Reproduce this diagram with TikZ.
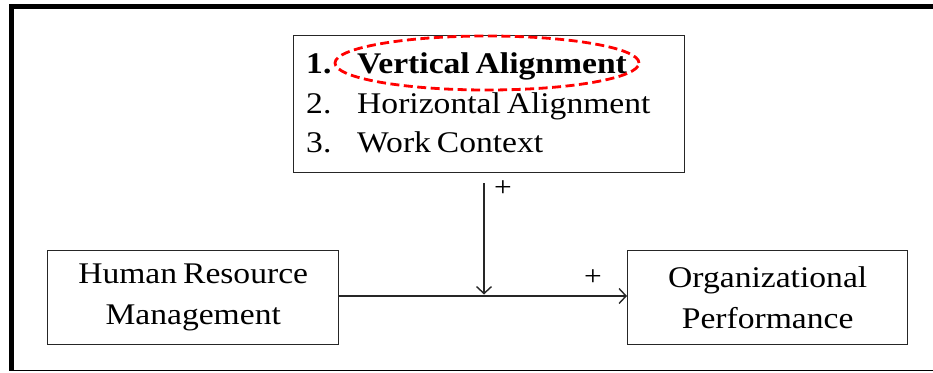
\documentclass[tikz,border=0pt]{standalone}
\usepackage{fontspec}
\setmainfont{Liberation Serif}[FakeStretch=1.12,WordSpace=0.7]
\usetikzlibrary{arrows.meta}
\begin{document}
\begin{tikzpicture}[x=1pt,y=-1pt,
  box/.style={draw=black!85,line width=1.4pt,inner sep=0pt,align=center,
    font=\fontsize{30}{41}\selectfont},
  itemtxt/.style={anchor=base west,inner sep=0pt,font=\fontsize{30}{36}\selectfont},
  arr/.style={draw=black!85,line width=1.4pt,-{Straight Barb[length=7pt,width=15pt,line width=1.4pt]}},
  sign/.style={inner sep=0pt,font=\fontsize{28}{28}\selectfont}]
  \useasboundingbox (0,0) rectangle (933,372);
  % outer frame, cut off on the right
  \draw[line width=4.5pt] (933,6.5) -- (9.2,6.5);
  \draw[line width=5pt] (11.5,4.3) -- (11.5,371);
  \draw[line width=1.5pt] (9,370.5) -- (933,370.5);

  % moderator box with its three items
  \node[box,minimum width=391pt,minimum height=137pt,anchor=north west] (top) at (293,35) {};
  \node[itemtxt,font=\fontsize{30}{36}\selectfont\bfseries] (n1) at (306,73) {1.};
  \node[itemtxt,font=\fontsize{30}{36}\selectfont\bfseries] (t1) at (357,73) {Vertical Alignment};
  \node[itemtxt] (n2) at (306,113) {2.};
  \node[itemtxt] (t2) at (357,113) {Horizontal Alignment};
  \node[itemtxt] (n3) at (306,152) {3.};
  \node[itemtxt] (t3) at (357,152) {Work Context};
  \draw[red,line width=2.8pt,dash pattern=on 9pt off 4.5pt] (487,63) ellipse [x radius=152pt,y radius=27pt];

  % independent and dependent variables
  \node[box,minimum width=291pt,minimum height=94pt,anchor=north west] (hrm) at (47,250)
    {Human Resource\\Management};
  \node[box,minimum width=280pt,minimum height=94pt,anchor=north west] (op) at (627,250)
    {Organizational\\Performance};

  % relations
  \coordinate (j) at (484,296);
  \draw[arr] (hrm.east |- j) -- (op.west |- j);
  \draw[arr] ([yshift=-10pt]top.south -| j) -- ([yshift=1.5pt]j);
  \node[sign] (p1) at (503,189) {+};
  \node[sign] (p2) at (593,278) {+};
\end{tikzpicture}
\end{document}
